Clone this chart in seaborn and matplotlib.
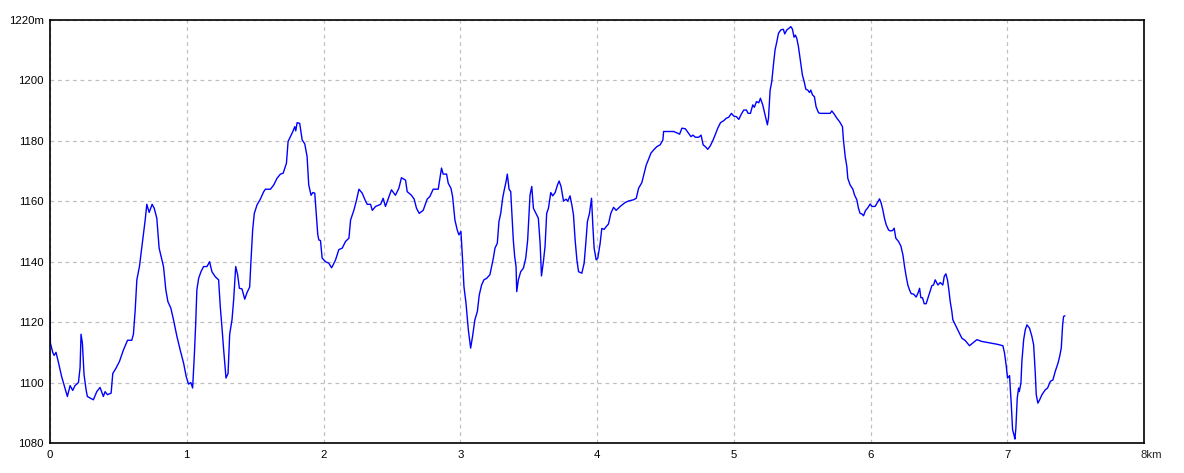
import matplotlib
matplotlib.use("Agg")
import matplotlib.pyplot as plt
import seaborn as sns
import pandas as pd

# distance along the route (km) and elevation (m)
distance_km = [
    0.000, 0.003, 0.020, 0.030, 0.044, 0.060, 0.085, 0.110, 0.127, 0.147,
    0.166, 0.183, 0.208, 0.220, 0.227, 0.237, 0.249, 0.264, 0.273, 0.317,
    0.342, 0.366, 0.390, 0.403, 0.420, 0.447, 0.459, 0.483, 0.508, 0.537,
    0.567, 0.598, 0.610, 0.623, 0.635, 0.654, 0.671, 0.684, 0.696, 0.708,
    0.725, 0.747, 0.762, 0.781, 0.798, 0.813, 0.830, 0.847, 0.862, 0.884,
    0.903, 0.928, 0.952, 0.977, 0.996, 1.013, 1.030, 1.043, 1.055, 1.065,
    1.074, 1.087, 1.104, 1.123, 1.148, 1.167, 1.184, 1.209, 1.233, 1.245,
    1.258, 1.270, 1.287, 1.302, 1.314, 1.331, 1.343, 1.358, 1.372, 1.385,
    1.404, 1.424, 1.441, 1.460, 1.470, 1.482, 1.494, 1.514, 1.538, 1.563,
    1.575, 1.612, 1.636, 1.660, 1.685, 1.705, 1.729, 1.741, 1.758, 1.775,
    1.790, 1.797, 1.807, 1.826, 1.844, 1.863, 1.880, 1.892, 1.909, 1.922,
    1.936, 1.948, 1.958, 1.966, 1.978, 1.990, 2.015, 2.039, 2.059, 2.071,
    2.088, 2.112, 2.137, 2.161, 2.186, 2.198, 2.222, 2.242, 2.259, 2.283,
    2.308, 2.320, 2.344, 2.357, 2.381, 2.418, 2.436, 2.453, 2.497, 2.526,
    2.551, 2.570, 2.600, 2.612, 2.643, 2.663, 2.680, 2.700, 2.729, 2.758,
    2.778, 2.802, 2.839, 2.851, 2.863, 2.875, 2.900, 2.912, 2.932, 2.944,
    2.961, 2.978, 2.990, 3.005, 3.017, 3.027, 3.042, 3.059, 3.076, 3.090,
    3.107, 3.125, 3.139, 3.156, 3.173, 3.193, 3.217, 3.242, 3.254, 3.271,
    3.283, 3.296, 3.310, 3.322, 3.335, 3.344, 3.357, 3.369, 3.381, 3.388,
    3.398, 3.408, 3.413, 3.425, 3.442, 3.462, 3.479, 3.493, 3.503, 3.510,
    3.523, 3.535, 3.554, 3.571, 3.584, 3.594, 3.608, 3.620, 3.632, 3.645,
    3.662, 3.676, 3.694, 3.711, 3.723, 3.737, 3.755, 3.774, 3.786, 3.803,
    3.816, 3.828, 3.840, 3.853, 3.865, 3.889, 3.906, 3.918, 3.930, 3.945,
    3.960, 3.970, 3.979, 3.994, 4.006, 4.023, 4.035, 4.052, 4.067, 4.084,
    4.101, 4.121, 4.140, 4.170, 4.206, 4.231, 4.267, 4.287, 4.304, 4.328,
    4.345, 4.360, 4.377, 4.394, 4.414, 4.438, 4.462, 4.482, 4.487, 4.560,
    4.592, 4.604, 4.621, 4.646, 4.670, 4.687, 4.702, 4.719, 4.744, 4.761,
    4.776, 4.792, 4.810, 4.829, 4.849, 4.866, 4.883, 4.903, 4.927, 4.946,
    4.963, 4.983, 5.000, 5.020, 5.037, 5.056, 5.073, 5.093, 5.105, 5.122,
    5.139, 5.151, 5.166, 5.183, 5.195, 5.212, 5.229, 5.246, 5.254, 5.266,
    5.278, 5.290, 5.302, 5.315, 5.327, 5.344, 5.356, 5.363, 5.373, 5.388,
    5.402, 5.417, 5.429, 5.441, 5.451, 5.461, 5.473, 5.490, 5.502, 5.515,
    5.527, 5.541, 5.554, 5.563, 5.576, 5.590, 5.602, 5.620, 5.632, 5.705,
    5.717, 5.734, 5.754, 5.773, 5.795, 5.802, 5.815, 5.827, 5.834, 5.851,
    5.871, 5.883, 5.900, 5.912, 5.924, 5.937, 5.949, 5.963, 5.978, 5.998,
    6.010, 6.034, 6.051, 6.066, 6.078, 6.090, 6.102, 6.115, 6.132, 6.144,
    6.161, 6.173, 6.185, 6.205, 6.222, 6.237, 6.249, 6.261, 6.273, 6.285,
    6.298, 6.315, 6.334, 6.349, 6.359, 6.368, 6.380, 6.393, 6.407, 6.424,
    6.437, 6.449, 6.461, 6.473, 6.493, 6.510, 6.529, 6.539, 6.551, 6.563,
    6.573, 6.583, 6.595, 6.602, 6.620, 6.644, 6.668, 6.693, 6.724, 6.754,
    6.778, 6.815, 6.876, 6.924, 6.968, 6.980, 6.993, 7.002, 7.017, 7.022,
    7.029, 7.039, 7.049, 7.056, 7.063, 7.073, 7.083, 7.088, 7.100, 7.107,
    7.120, 7.132, 7.144, 7.163, 7.180, 7.193, 7.205, 7.212, 7.224, 7.237,
    7.254, 7.278, 7.295, 7.315, 7.334, 7.351, 7.371, 7.383, 7.395, 7.405,
    7.412, 7.422,
]

elevation_m = [
    1124, 1113, 1110, 1109, 1110, 1107, 1102, 1098, 1095.4, 1099,
    1097.4, 1099, 1100, 1105, 1116, 1113, 1102.6, 1097.6, 1095.4, 1094.3,
    1097, 1098.4, 1095.4, 1097, 1096, 1096.5, 1103, 1104.8, 1107, 1110.8,
    1114, 1114, 1116, 1124, 1134, 1138.4, 1144.5, 1149.4, 1153.8, 1159,
    1156.3, 1159, 1157.7, 1154.4, 1144.5, 1141.7, 1138.4, 1130.7, 1126.8, 1124.6,
    1120.8, 1115.3, 1110.8, 1106.4, 1102, 1099.5, 1100, 1098.2, 1108.6, 1119,
    1130.7, 1134.5, 1136.7, 1138.4, 1138.4, 1140, 1136.7, 1135, 1134, 1125.2,
    1118, 1110.8, 1101.5, 1103, 1116, 1120.8, 1127.4, 1138.4, 1135.7, 1131.2,
    1131, 1127.6, 1129.8, 1131.6, 1140.6, 1150.5, 1156, 1158.8, 1160.7, 1163.2,
    1164, 1164, 1165.4, 1167.6, 1169, 1169.3, 1172.6, 1179.8, 1181.4, 1183,
    1184.7, 1183.3, 1186, 1185.8, 1180.3, 1179, 1174.8, 1165.4, 1162, 1162.9,
    1162.7, 1155, 1149, 1147.2, 1147, 1141.2, 1140, 1139.5, 1138, 1139,
    1140.6, 1144, 1144.5, 1146.7, 1147.8, 1153.8, 1157, 1160.5, 1164, 1162.7,
    1160, 1159, 1159, 1157, 1158.3, 1159, 1161, 1158.3, 1163.8, 1162,
    1164.3, 1167.8, 1167, 1163.2, 1162, 1160.7, 1157.7, 1156, 1157, 1160.7,
    1161.6, 1164, 1164, 1167.6, 1171, 1169, 1169, 1166, 1164.3, 1161.6,
    1153.8, 1150.5, 1148.9, 1150, 1140.6, 1131.8, 1126.3, 1117.5, 1111.4, 1115.3,
    1120.8, 1123.5, 1129, 1132.3, 1134, 1134.5, 1135.7, 1141.2, 1144.5, 1146.1,
    1153.3, 1156, 1161, 1163.8, 1166.5, 1169, 1164, 1163.2, 1153.3, 1147.2,
    1141.7, 1138.4, 1130.1, 1134, 1136.7, 1137.9, 1141.2, 1147.2, 1156, 1162,
    1164.9, 1157.7, 1156, 1154.4, 1146.1, 1135.3, 1140, 1145, 1156, 1157.7,
    1162.9, 1161.8, 1162.9, 1165.4, 1166.7, 1164.9, 1160.1, 1160.7, 1160, 1161.8,
    1158.8, 1155.5, 1147.2, 1140.6, 1136.7, 1136.2, 1139.5, 1146.1, 1153.3, 1156,
    1161, 1151.6, 1144.5, 1140.6, 1141.2, 1146.1, 1151, 1150.7, 1151.6, 1152.5,
    1156, 1158, 1157, 1158.3, 1159.6, 1160.1, 1160.5, 1161, 1164.3, 1166.2,
    1169.3, 1172, 1173.9, 1175.9, 1177, 1178.1, 1178.7, 1180.3, 1183.1, 1183.1,
    1182.5, 1182.2, 1184.2, 1184, 1182.5, 1181.4, 1181.9, 1181.2, 1181.2, 1181.9,
    1178.7, 1178.1, 1177.2, 1178.4, 1180.3, 1182.2, 1184.2, 1186, 1186.7, 1187.5,
    1187.8, 1189.1, 1188.2, 1188, 1187.1, 1188.9, 1190.2, 1190.2, 1189.1, 1189.1,
    1191.9, 1191.1, 1193, 1192.6, 1194.1, 1191.9, 1188.6, 1185.3, 1187.5, 1196.8,
    1199.6, 1205.1, 1210.1, 1212.8, 1215.6, 1216.7, 1216.9, 1216.9, 1215.4, 1216.7,
    1217.2, 1217.8, 1217, 1214.3, 1215, 1213.9, 1211.2, 1205.7, 1201.8, 1199.6,
    1197.1, 1196.8, 1196, 1196.8, 1195.2, 1194.6, 1191.3, 1189.3, 1189.1, 1189.1,
    1189.9, 1188.9, 1187.5, 1186.4, 1184.7, 1180.3, 1174.8, 1171.5, 1167.6, 1165.4,
    1164, 1162.1, 1160.5, 1157.7, 1156, 1155.8, 1155.2, 1156.9, 1157.7, 1159.1,
    1158.3, 1158.3, 1159.6, 1160.8, 1159.4, 1157.2, 1154.4, 1152.2, 1150.5, 1150.2,
    1150.3, 1151.1, 1147.8, 1146.7, 1145.2, 1142.3, 1138.4, 1135.1, 1132.3, 1130.7,
    1129.4, 1129.3, 1128.3, 1129.8, 1131.2, 1128.1, 1128.1, 1126.1, 1126.1, 1128.5,
    1130.4, 1132.1, 1132.3, 1134, 1132.3, 1133.1, 1132.3, 1135.1, 1136, 1134,
    1130.7, 1126.8, 1123.5, 1120.8, 1119.1, 1116.9, 1114.7, 1113.9, 1112.2, 1113.3,
    1114.2, 1113.6, 1113.1, 1112.7, 1112.2, 1109.8, 1105.4, 1101.5, 1102.3, 1098.2,
    1093.2, 1084.4, 1082.7, 1081.3, 1084.9, 1094.8, 1098.2, 1097, 1099.8, 1107,
    1114.2, 1117.5, 1119.1, 1118, 1115.3, 1112.5, 1103.1, 1096, 1093.2, 1094.3,
    1096, 1097.6, 1098.2, 1100.4, 1100.9, 1103.7, 1106.4, 1108.6, 1111.4, 1119.1,
    1121.9, 1122.1,
]

x_ticks = [0, 1, 2, 3, 4, 5, 6, 7, 8]
x_tick_labels = ["0", "1", "2", "3", "4", "5", "6", "7", ""]
y_ticks = [1080, 1100, 1120, 1140, 1160, 1180, 1200, 1220]
y_tick_labels = ["1080", "1100", "1120", "1140", "1160", "1180", "1200", "1220m"]

sns.set_style("white")
plt.rcParams["font.family"] = ["Liberation Sans", "DejaVu Sans"]

df = pd.DataFrame({"km": distance_km, "elev": elevation_m})

fig = plt.figure(figsize=(11.84, 4.73), dpi=100)
ax = fig.add_axes([50 / 1184, 1 - 443 / 473, 1094 / 1184, 423 / 473])

sns.lineplot(data=df, x="km", y="elev", ax=ax, color="#0000ff", linewidth=1.0,
             sort=False, estimator=None)

ax.set_xlim(0, 8)
ax.set_ylim(1080, 1220)
ax.set_xticks(x_ticks)
ax.set_xticklabels(x_tick_labels)
ax.set_yticks(y_ticks)
ax.set_yticklabels(y_tick_labels)
ax.set_xlabel("")
ax.set_ylabel("")
ax.tick_params(axis="both", length=0, labelsize=8.2, colors="black")
ax.tick_params(axis="x", pad=5)
ax.tick_params(axis="y", pad=4.5)

ax.grid(True, color="#c0c0c0", linestyle=(0, (3, 3)), linewidth=0.9)
ax.set_axisbelow(True)
for s in ax.spines.values():
    s.set_visible(True)
    s.set_color("black")
    s.set_linewidth(1.2)

ax.annotate("8km", xy=(8, 1080), xytext=(-2.5, -5), textcoords="offset points",
            ha="left", va="top", fontsize=8.2, annotation_clip=False)

fig.savefig("out.png", dpi=100, facecolor="white")
